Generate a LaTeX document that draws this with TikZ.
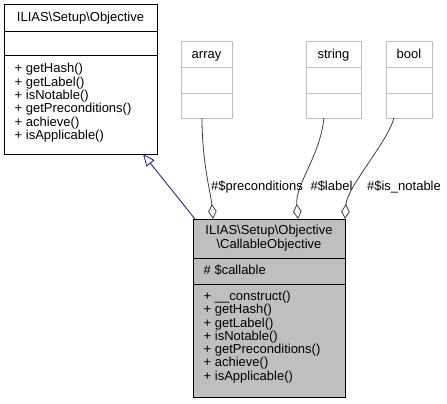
\documentclass[tikz,border=0pt]{standalone}
\usepackage{fontspec}
\setmainfont{Liberation Sans}
\usetikzlibrary{arrows.meta}
\definecolor{boxgray}{HTML}{BFBFBF}
\definecolor{edgegray}{HTML}{404040}
\definecolor{inhnavy}{HTML}{191970}
\tikzset{
  umlbox/.style={draw=black, line width=1pt, anchor=north west, inner sep=0pt, outer sep=0pt},
  extbox/.style={draw=boxgray, line width=1pt, anchor=north west, inner sep=0pt, outer sep=0pt},
  sep/.style={line width=1pt},
  lbl/.style={font=\fontsize{13}{13.3}\selectfont, inner sep=0pt, text height=9.4pt, text depth=2.6pt},
  member/.style={lbl, anchor=west},
  assoc/.style={draw=edgegray, line width=0.8pt, -{Diamond[open, length=15pt, width=8.5pt, fill=white]}},
  inherit/.style={draw=inhnavy, line width=0.8pt, -{Triangle[open, length=12pt, width=10pt, fill=white]}},
}
\begin{document}
\begin{tikzpicture}[x=1pt, y=-1pt]
\useasboundingbox (0,0) rectangle (447,404);

% ILIAS\Setup\Objective
\node[umlbox, minimum width=153pt, minimum height=149pt] (obj) at (4,5) {};
\draw[sep] (4,32) -- (157,32);
\draw[sep] (4,56) -- (157,56);
\node[lbl] (objtitle) at (80.5,18.5) {ILIAS\textbackslash Setup\textbackslash Objective};
\foreach \t [count=\i from 0] in {+ getHash(), + getLabel(), + isNotable(), + getPreconditions(), + achieve(), + isApplicable()}
  \node[member] (objm\i) at (14.5, 69.5+\i*13.3) {\t};

% array
\node[extbox, minimum width=51pt, minimum height=76pt] (arr) at (181,42) {};
\draw[sep, boxgray] (181,68) -- (232,68);
\draw[sep, boxgray] (181,93) -- (232,93);
\node[lbl] (arrtitle) at (206.5,55) {array};

% string
\node[extbox, minimum width=55pt, minimum height=76pt] (str) at (306,42) {};
\draw[sep, boxgray] (306,68) -- (361,68);
\draw[sep, boxgray] (306,93) -- (361,93);
\node[lbl] (strtitle) at (333.5,55) {string};

% bool
\node[extbox, minimum width=46pt, minimum height=76pt] (bool) at (386,42) {};
\draw[sep, boxgray] (386,68) -- (432,68);
\draw[sep, boxgray] (386,93) -- (432,93);
\node[lbl] (booltitle) at (409,55) {bool};

% CallableObjective
\node[umlbox, fill=boxgray, minimum width=152pt, minimum height=178pt] (call) at (193,219) {};
\draw[sep] (193,258) -- (345,258);
\draw[sep] (193,284) -- (345,284);
\node[lbl] (calltitle1) at (269,231.5) {ILIAS\textbackslash Setup\textbackslash Objective};
\node[lbl] (calltitle2) at (269,245) {\textbackslash CallableObjective};
\node[member] (callattr) at (203.5,271) {\# \$callable};
\foreach \t [count=\i from 0] in {+ \_\_construct(), + getHash(), + getLabel(), + isNotable(), + getPreconditions(), + achieve(), + isApplicable()}
  \node[member] (callm\i) at (203.5, 297+\i*13.3) {\t};

% inheritance
\draw[inherit] ([xshift=2pt]call.north west) -- ([xshift=-14pt]obj.south east);

% associations
\draw[assoc] ([xshift=-4.5pt]arr.south) .. controls ([xshift=-4.5pt,yshift=-45pt]arr.south) and ([xshift=-58pt,yshift=25pt]call.north) .. ([xshift=-56pt]call.north);
\draw[assoc] ([xshift=-9.5pt]str.south) .. controls ([xshift=-14pt,yshift=-40pt]str.south) and ([xshift=26pt,yshift=35pt]call.north) .. ([xshift=29pt]call.north);
\draw[assoc] ([xshift=-15pt]bool.south) .. controls ([xshift=-22pt,yshift=-25pt]bool.south) and ([xshift=2pt,yshift=32pt]call.north east) .. ([xshift=0pt]call.north east);

% labels
\node[lbl] (lpre) at (257,187) {\#\$preconditions};
\node[lbl] (llab) at (331.5,187) {\#\$label};
\node[lbl] (lnot) at (404,187) {\#\$is\_notable};
\end{tikzpicture}
\end{document}
